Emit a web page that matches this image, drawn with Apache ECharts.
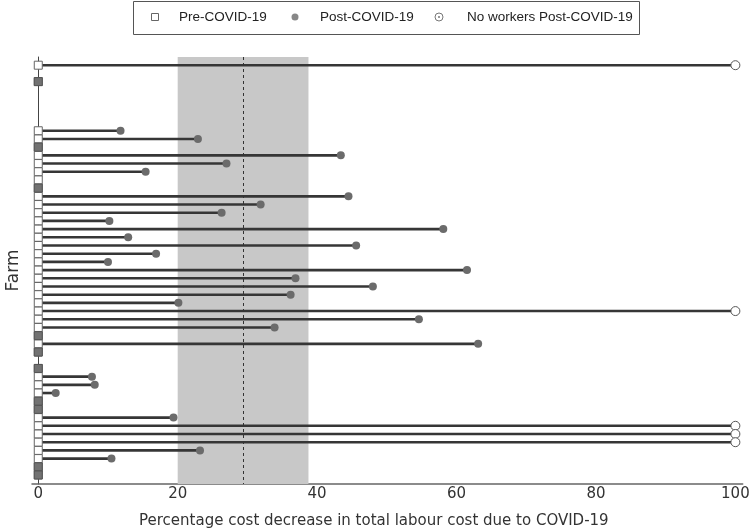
<!DOCTYPE html>
<html>
<head>
<meta charset="utf-8">
<script src="https://cdn.jsdelivr.net/npm/echarts@6/dist/echarts.min.js"></script>
<style>html,body{margin:0;padding:0;background:#fff}#c{width:749px;height:531px}</style>
</head>
<body>
<div id="c"></div>
<script>
// Farm rows, top to bottom
const farmIds = [1,2,3,4,5,6,7,8,9,10,11,12,13,14,15,16,17,18,19,20,21,22,23,24,25,26,27,28,29,30,31,32,33,34,35,36,37,38,39,40,41,42,43,44,45,46,47,48,49,50,51];
// Pre-COVID-19 cost decrease (baseline, 0) ; null = no data
const preCovid = [0,null,0,null,null,null,null,null,0,0,0,0,0,0,0,0,0,0,0,0,0,0,0,0,0,0,0,0,0,0,0,0,0,0,0,0,null,0,0,0,0,0,0,0,0,0,0,0,0,0,0];
// Post-COVID-19 percentage cost decrease ; null = no data
const postCovid = [100,null,0,null,null,null,null,null,11.8,22.9,0,43.4,27.0,15.4,null,0,44.5,31.9,26.3,10.2,58.1,12.9,45.6,16.9,10.0,61.5,36.9,48.0,36.2,20.1,100,54.6,33.9,0,63.1,0,null,0,7.7,8.1,2.5,0,0,19.4,100,100,100,23.2,10.5,0,0];
// Farms with no workers post-COVID-19 (row indices)
const noWorkersRows = [0,30,44,45,46];
// Shaded range and dashed reference line
const bandRange = [20.0, 38.76];
const meanValue = 29.43;
const xTickLabels = [0,20,40,60,80,100];

const lineData = [], preData = [], postData = [], zeroData = [], nwData = [];
farmIds.forEach((id, i) => {
  if (preCovid[i] !== null) preData.push([preCovid[i], i]);
  const v = postCovid[i];
  if (v === null) return;
  if (noWorkersRows.indexOf(i) >= 0) { nwData.push([v, i]); lineData.push([v, i]); }
  else if (v === 0) { zeroData.push([v, i]); }
  else { postData.push([v, i]); lineData.push([v, i]); }
});

const chart = echarts.init(document.getElementById('c'), null, {renderer: 'canvas'});
const FONT = 'DejaVu Sans';
chart.setOption({
  animation: false,
  grid: {left: 32, right: 6.3, top: 57, bottom: 47, containLabel: false, outerBoundsMode: 'none'},
  xAxis: {
    type: 'value', min: -0.9, max: 101.05,
    axisLine: {show: true, onZero: false, lineStyle: {color: '#666', width: 1.5}},
    axisTick: {show: false},
    splitLine: {show: false},
    axisLabel: {customValues: xTickLabels, color: '#333', fontFamily: FONT, fontSize: 15, margin: 3},
    name: 'Percentage cost decrease in total labour cost due to COVID-19',
    nameLocation: 'middle', nameGap: 30,
    nameTextStyle: {color: '#333', fontFamily: FONT, fontSize: 15, padding: [0, 27, 0, 0]}
  },
  yAxis: {
    type: 'value', inverse: true, min: -1, max: 51.1,
    axisLine: {show: true, onZero: true, lineStyle: {color: '#444', width: 1}},
    axisTick: {show: false}, axisLabel: {show: false}, splitLine: {show: false},
    name: 'Farm', nameLocation: 'middle', nameGap: 10,
    nameTextStyle: {color: '#333', fontFamily: FONT, fontSize: 17}
  },
  series: [
    {
      type: 'scatter', data: [], z: 1, silent: true,
      markArea: {silent: true, itemStyle: {color: '#c8c8c8', opacity: 1}, data: [[{xAxis: bandRange[0]}, {xAxis: bandRange[1]}]]},
      markLine: {silent: true, symbol: ['none','none'], label: {show: false},
        lineStyle: {color: '#333', width: 1, type: [3,3]}, data: [{xAxis: meanValue}]}
    },
    {
      type: 'custom', z: 2, data: lineData, encode: {x: 0, y: 1},
      renderItem: function (params, api) {
        const p0 = api.coord([0, api.value(1)]);
        const p1 = api.coord([api.value(0), api.value(1)]);
        return {type: 'line', shape: {x1: p0[0], y1: p0[1], x2: p1[0], y2: p1[1]},
          style: {stroke: '#363636', lineWidth: 2.6}};
      }
    },
    {
      name: 'Pre-COVID-19', type: 'scatter', z: 3, data: preData, symbol: 'rect', symbolSize: 8,
      itemStyle: {color: '#fff', borderColor: '#666', borderWidth: 1, opacity: 1}
    },
    {
      type: 'scatter', z: 4, data: zeroData, symbol: 'rect', symbolSize: 8,
      itemStyle: {color: '#727272', borderColor: '#555', borderWidth: 1, opacity: 1}
    },
    {
      name: 'Post-COVID-19', type: 'scatter', z: 4, data: postData, symbol: 'circle', symbolSize: 8,
      itemStyle: {color: '#6b6b6b', opacity: 1}
    },
    {
      name: 'No workers Post-COVID-19', type: 'scatter', z: 4, data: nwData, symbol: 'circle', symbolSize: 9,
      itemStyle: {color: '#fff', borderColor: '#555', borderWidth: 1, opacity: 1}
    }
  ],
  graphic: [
    {type: 'rect', shape: {x: 133.5, y: 1.5, width: 506, height: 33}, style: {fill: '#fff', stroke: '#555', lineWidth: 1}, z: 10},
    {type: 'rect', shape: {x: 151.5, y: 13.5, width: 7, height: 7}, style: {fill: '#fff', stroke: '#666', lineWidth: 1}, z: 11},
    {type: 'text', x: 179, y: 17, style: {text: 'Pre-COVID-19', fill: '#222', font: '13.5px "Liberation Sans", Arial', verticalAlign: 'middle'}, z: 11},
    {type: 'circle', shape: {cx: 295, cy: 17, r: 3.5}, style: {fill: '#888'}, z: 11},
    {type: 'text', x: 320, y: 17, style: {text: 'Post-COVID-19', fill: '#222', font: '13.5px "Liberation Sans", Arial', verticalAlign: 'middle'}, z: 11},
    {type: 'circle', shape: {cx: 439, cy: 17, r: 4}, style: {fill: 'none', stroke: '#777', lineWidth: 1}, z: 11},
    {type: 'circle', shape: {cx: 439, cy: 17, r: 1}, style: {fill: '#777'}, z: 11},
    {type: 'text', x: 467, y: 17, style: {text: 'No workers Post-COVID-19', fill: '#222', font: '13.5px "Liberation Sans", Arial', verticalAlign: 'middle'}, z: 11}
  ]
});
</script>
</body>
</html>
